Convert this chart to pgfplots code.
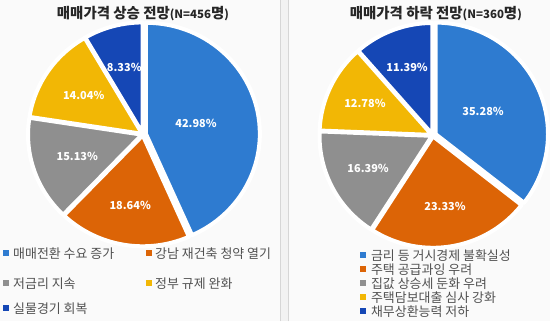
\documentclass[border=0pt]{standalone}
\usepackage{pgfplots}
\pgfplotsset{compat=1.18}
\usepackage{pgfplotstable}
\usepackage{fontspec}
\setmainfont{Noto Sans CJK KR}
\definecolor{cBlue}{HTML}{2E7BD0}
\definecolor{cOrange}{HTML}{DC6406}
\definecolor{cGray}{HTML}{8F8F8F}
\definecolor{cYellow}{HTML}{F2B705}
\definecolor{cNavy}{HTML}{1547B5}
\definecolor{cText}{HTML}{505050}
\definecolor{cBg}{HTML}{FAFAFA}
\definecolor{cLine}{HTML}{D6D6D6}
\colorlet{s0}{cBlue}
\colorlet{s1}{cOrange}
\colorlet{s2}{cGray}
\colorlet{s3}{cYellow}
\colorlet{s4}{cNavy}

% value, label radius factor, explode offset (px)
\pgfplotstableread{
val lr ex
42.98 0.45 3
18.64 0.64 1
15.13 0.60 1
14.04 0.62 1
8.33 0.62 1
}\upTable
\pgfplotstableread{
val lr ex
35.28 0.47 3
23.33 0.64 1
16.39 0.64 1
12.78 0.66 1
11.39 0.64 1
}\downTable

\newcommand\drawpie[5]{% #1 table, #2 cx, #3 cy, #4 rx, #5 ry
 \pgfplotsextra{%
  \def\pieT{0}%
  \pgfplotsforeachungrouped \i in {0,1,2,3,4}{%
    \pgfplotstablegetelem{\i}{val}\of{#1}%
    \pgfmathsetmacro\pieT{\pieT+\pgfplotsretval}}%
  \def\pieA{90}%
  \pgfplotsforeachungrouped \i in {0,1,2,3,4}{%
    \pgfplotstablegetelem{\i}{val}\of{#1}\let\pieV\pgfplotsretval
    \pgfplotstablegetelem{\i}{lr}\of{#1}\let\pieL\pgfplotsretval
    \pgfplotstablegetelem{\i}{ex}\of{#1}\let\pieE\pgfplotsretval
    \pgfmathsetmacro\pieS{\pieV/\pieT*360}%
    \pgfmathsetmacro\pieB{\pieA-\pieS}%
    \pgfmathsetmacro\pieM{\pieA-\pieS/2}%
    \pgfmathsetmacro\pieX{#2+\pieE*cos(\pieM)}%
    \pgfmathsetmacro\pieY{#3+\pieE*sin(\pieM)}%
    \fill[fill=s\i, draw=white, line width=4bp, line join=round]
      (axis cs:\pieX,\pieY) -- ++(\pieA:#4bp and #5bp)
      arc[start angle=\pieA, end angle=\pieB, x radius=#4bp, y radius=#5bp] -- cycle;
    \node[text=white, font=\bfseries\fontsize{11}{11}\selectfont, inner sep=0pt]
      at (axis cs:{\pieX+\pieL*#4*cos(\pieM)},{\pieY+\pieL*#5*sin(\pieM)}) {\pieV\%};
    \let\pieA\pieB
  }}%
}

\begin{document}
\begin{tikzpicture}
\begin{axis}[hide axis, x=1bp, y=1bp, xmin=0, xmax=550, ymin=0, ymax=321,
  scale only axis, clip=false]
% background
\fill[cBg] (axis cs:0,0) rectangle (axis cs:550,321);
\fill[white!95!black] (axis cs:280,0) rectangle (axis cs:288,321);
\draw[cLine, line width=0.8bp] (axis cs:280,0) -- (axis cs:280,321);
\draw[cLine, line width=0.8bp] (axis cs:288,0) -- (axis cs:288,321);

% pies
\drawpie{\upTable}{143}{187}{114}{111}
\drawpie{\downTable}{433}{186}{112.5}{111.5}

% titles
\node[font=\bfseries\fontsize{14.5}{14.5}\selectfont, text=black!85, inner sep=0pt]
  at (axis cs:143,308) {매매가격 상승 전망{\fontsize{11.5}{11.5}\selectfont(N=456}명{\fontsize{11.5}{11.5}\selectfont)}};
\node[font=\bfseries\fontsize{14.5}{14.5}\selectfont, text=black!85, inner sep=0pt]
  at (axis cs:436,308) {매매가격 하락 전망{\fontsize{11.5}{11.5}\selectfont(N=360}명{\fontsize{11.5}{11.5}\selectfont)}};

% left legend
\begin{scope}[every node/.style={anchor=west, text=cText, inner sep=0pt, font=\fontsize{13}{13}\selectfont}]
\fill[cBlue]   (axis cs:3,65)   rectangle (axis cs:9,71);   \node at (axis cs:13,68) {매매전환 수요 증가};
\fill[cOrange] (axis cs:146,65) rectangle (axis cs:152,71); \node at (axis cs:155,68) {강남 재건축 청약 열기};
\fill[cGray]   (axis cs:3,35)   rectangle (axis cs:9,41);   \node at (axis cs:13,38) {저금리 지속};
\fill[cYellow] (axis cs:146,35) rectangle (axis cs:152,41); \node at (axis cs:155,38) {정부 규제 완화};
\fill[cNavy]   (axis cs:3,10)   rectangle (axis cs:9,16);   \node at (axis cs:13,13) {실물경기 회복};
% right legend
\fill[cBlue]   (axis cs:360,63) rectangle (axis cs:366,69); \node at (axis cs:371,66) {금리 등 거시경제 불확실성};
\fill[cOrange] (axis cs:360,49) rectangle (axis cs:366,55); \node at (axis cs:371,52) {주택 공급과잉 우려};
\fill[cGray]   (axis cs:360,35) rectangle (axis cs:366,41); \node at (axis cs:371,38) {집값 상승세 둔화 우려};
\fill[cYellow] (axis cs:360,21) rectangle (axis cs:366,27); \node at (axis cs:371,24) {주택담보대출 심사 강화};
\fill[cNavy]   (axis cs:360,7)  rectangle (axis cs:366,13); \node at (axis cs:371,10) {채무상환능력 저하};
\end{scope}
\end{axis}
\end{tikzpicture}
\end{document}
